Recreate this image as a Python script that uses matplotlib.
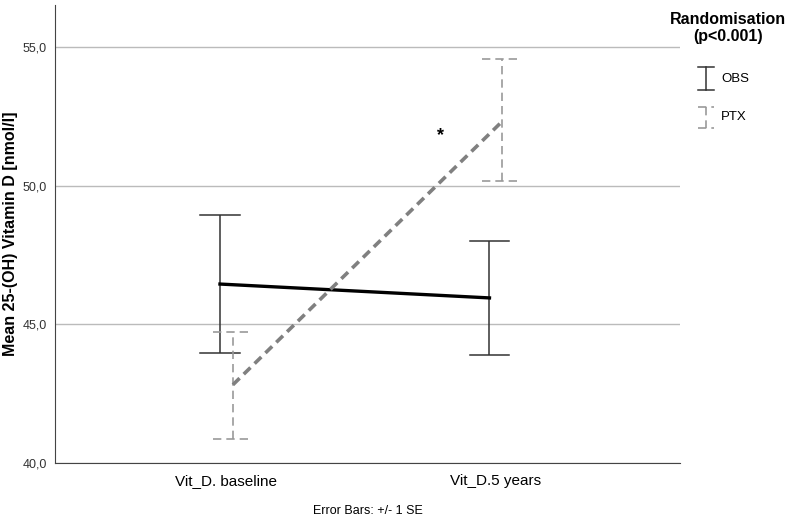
import numpy as np
import matplotlib.pyplot as plt
from matplotlib.lines import Line2D

plt.rcParams['font.family'] = ['Liberation Sans', 'DejaVu Sans']

# data
categories = ['Vit_D. baseline', 'Vit_D.5 years']
groups = ['OBS', 'PTX']
means = {'OBS': [46.45, 45.95], 'PTX': [42.82, 52.32]}
upper = {'OBS': [48.95, 48.01], 'PTX': [44.72, 54.55]}
lower = {'OBS': [43.96, 43.90], 'PTX': [40.88, 50.18]}
yticks = [40, 45, 50, 55]

W, H = 793, 520
fig = plt.figure(figsize=(W / 100, H / 100), dpi=100)
ax = fig.add_axes([0.0694, 0.1096, 0.7881, 0.8804])

x = np.arange(len(categories))
offsets = {'OBS': -0.024, 'PTX': 0.024}
styles = {
  'OBS': dict(line_color='black', line_ls='-', line_lw=2.4, err_color='#333333', err_ls='-', err_lw=1.1),
  'PTX': dict(line_color='#808080', line_ls=(0, (2.6, 1.6)), line_lw=2.6, err_color='#999999', err_ls=(0, (5, 3)), err_lw=1.2),
}

for g in groups:
  s = styles[g]
  xs = x + offsets[g]
  m = np.array(means[g])
  ax.plot(xs, m, color=s['line_color'], ls=s['line_ls'], lw=s['line_lw'], zorder=3)
  ax.vlines(xs, lower[g], upper[g], color=s['err_color'], lw=s['err_lw'], ls=s['err_ls'], zorder=2)
  for xi, lo, hi in zip(xs, lower[g], upper[g]):
    for yy in (lo, hi):
      ax.plot([xi - 0.074, xi + 0.074], [yy, yy], color=s['err_color'], lw=s['err_lw'], ls=s['err_ls'], zorder=2)

ax.text(0.795, 51.8, '*', fontsize=13, fontweight='bold', ha='center', va='center')

ax.set_xlim(-0.636, 1.683)
ax.set_ylim(40, 56.5)
ax.set_yticks(yticks)
ax.set_yticklabels([('%.1f' % v).replace('.', ',') for v in yticks])
ax.set_xticks(x)
ax.set_xticklabels(categories, fontsize=11)
ax.tick_params(axis='both', length=0)
ax.tick_params(axis='y', labelsize=9, labelcolor='#333333', pad=6)
ax.tick_params(axis='x', pad=8)
ax.yaxis.grid(True, color='#bbbbbb', lw=1)
ax.set_axisbelow(True)
for side in ['top', 'right']:
  ax.spines[side].set_visible(False)
for side in ['left', 'bottom']:
  ax.spines[side].set_color('#444444')
ax.set_ylabel('Mean 25-(OH) Vitamin D [nmol/l]', fontsize=11.5, fontweight='bold', va='center')
ax.yaxis.set_label_coords(-0.072, 0.5)
ax.set_xlabel('Error Bars: +/- 1 SE', fontsize=9, labelpad=12)

# legend drawn by hand, SPSS style
def fx(px):
  return px / W

def fy(py):
  return 1 - py / H

fig.text(fx(728), fy(28), 'Randomisation\n(p<0.001)', ha='center', va='center',
         fontsize=11.5, fontweight='bold', linespacing=1.25)
leg_y = {'OBS': (67, 90), 'PTX': (107, 128)}
for g in groups:
  s = styles[g]
  top, bot = leg_y[g]
  cx = 706
  fig.add_artist(Line2D([fx(cx), fx(cx)], [fy(top), fy(bot)], color=s['err_color'], lw=s['err_lw'], ls=s['err_ls']))
  for yy in (top, bot):
    fig.add_artist(Line2D([fx(cx - 8), fx(cx + 8)], [fy(yy), fy(yy)], color=s['err_color'], lw=s['err_lw'], ls=s['err_ls']))
  fig.text(fx(721), fy((top + bot) / 2), g, ha='left', va='center', fontsize=9.5)

plt.savefig('out.png', dpi=100)
